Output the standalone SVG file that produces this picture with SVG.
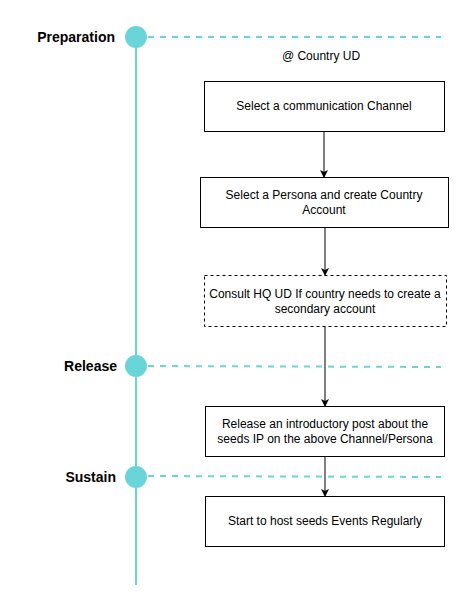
<svg xmlns="http://www.w3.org/2000/svg" width="465" height="605" viewBox="0 0 465 605">
<style>
.lbl{font-family:"Liberation Sans",Arial,sans-serif;font-size:14px;font-weight:bold;fill:#000;text-anchor:end;dominant-baseline:central}
.txt{font-family:"Liberation Sans",Arial,sans-serif;font-size:12px;fill:#000;text-anchor:middle;dominant-baseline:central}
.box{fill:#fff;stroke:#000;stroke-width:1}
.dash{fill:#fff;stroke:#000;stroke-width:1;stroke-dasharray:3 3}
.tl{stroke:#6ad5d9;stroke-width:2;fill:none}
.tld{stroke:#6ad5d9;stroke-width:2;fill:none;stroke-dasharray:6 6}
.dot{fill:#6ad5d9}
.conn{stroke:#000;stroke-width:1;fill:none;marker-end:url(#arr)}
</style>
<defs>
<marker id="arr" markerWidth="8" markerHeight="8" refX="7" refY="4" orient="auto" markerUnits="userSpaceOnUse">
<path d="M0,0 L8,4 L0,8 L2,4 z" fill="#000"/>
</marker>
</defs>
<g id="timeline">
<line class="tl" x1="136" y1="37" x2="136" y2="585"/>
<line class="tld" x1="148" y1="37" x2="441" y2="37"/>
<line class="tld" x1="148" y1="366" x2="441" y2="367"/>
<line class="tld" x1="148" y1="476" x2="441" y2="477"/>
</g>
<g id="preparation">
<circle class="dot" cx="136" cy="37" r="11"/>
<text class="lbl" x="115" y="37">Preparation</text>
</g>
<g id="release">
<circle class="dot" cx="136" cy="366" r="11"/>
<text class="lbl" x="117" y="366">Release</text>
</g>
<g id="sustain">
<circle class="dot" cx="136" cy="477" r="11"/>
<text class="lbl" x="116" y="477">Sustain</text>
</g>
<g id="country-ud">
<text class="txt" x="321" y="56">@ Country UD</text>
</g>
<g id="connectors">
<line class="conn" x1="324" y1="131" x2="324" y2="177"/>
<line class="conn" x1="325" y1="227" x2="325" y2="275"/>
<line class="conn" x1="325" y1="326" x2="325" y2="406"/>
<line class="conn" x1="325" y1="456" x2="325" y2="496"/>
</g>
<g id="n1">
<rect class="box" x="204.5" y="81.5" width="240" height="50"/>
<text class="txt" x="324" y="106">Select a communication Channel</text>
</g>
<g id="n2">
<rect class="box" x="200.5" y="177.5" width="248" height="50"/>
<text class="txt" x="324" y="195">Select a Persona and create Country</text>
<text class="txt" x="324" y="210">Account</text>
</g>
<g id="n3">
<rect class="dash" x="204.5" y="275.5" width="242" height="51"/>
<text class="txt" x="325" y="294">Consult HQ UD If country needs to create a</text>
<text class="txt" x="325" y="309">secondary account</text>
</g>
<g id="n4">
<rect class="box" x="205.5" y="406.5" width="239" height="50"/>
<text class="txt" x="325" y="424">Release an introductory post about the</text>
<text class="txt" x="325" y="439">seeds IP on the above Channel/Persona</text>
</g>
<g id="n5">
<rect class="box" x="205.5" y="496.5" width="239" height="50"/>
<text class="txt" x="325" y="521">Start to host seeds Events Regularly</text>
</g>
</svg>
